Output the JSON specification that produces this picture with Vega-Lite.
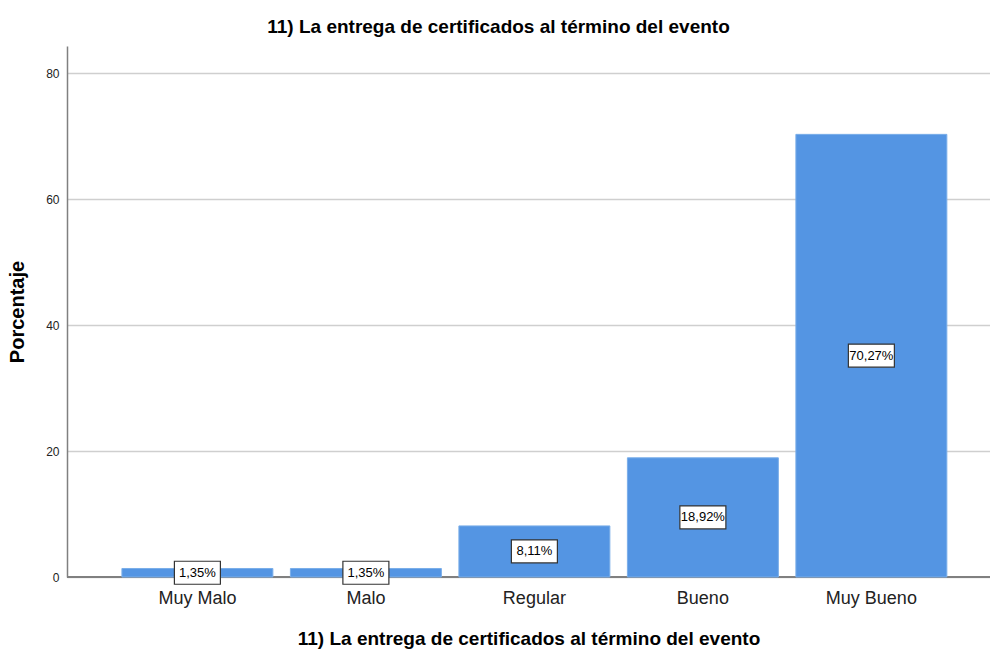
{
  "$schema": "https://vega.github.io/schema/vega-lite/v6.json",
  "autosize": {"type": "none"},
  "width": 923,
  "height": 531,
  "padding": {"left": 67, "top": 46, "right": 0, "bottom": 76},
  "background": "white",
  "title": {
    "text": "11) La entrega de certificados al término del evento",
    "font": "Liberation Sans",
    "fontSize": 19,
    "fontWeight": "bold",
    "color": "#000000",
    "anchor": "middle",
    "dx": -30,
    "offset": 9
  },
  "config": {
    "view": {"stroke": null},
    "font": "Liberation Sans"
  },
  "data": {
    "values": [
      {"cat": "Muy Malo", "pct": 1.35, "label": "1,35%"},
      {"cat": "Malo", "pct": 1.35, "label": "1,35%"},
      {"cat": "Regular", "pct": 8.11, "label": "8,11%"},
      {"cat": "Bueno", "pct": 18.92, "label": "18,92%"},
      {"cat": "Muy Bueno", "pct": 70.27, "label": "70,27%"}
    ]
  },
  "encoding": {
    "x": {
      "field": "cat",
      "type": "nominal",
      "sort": null,
      "scale": {"paddingInner": 0.104, "paddingOuter": 0.291, "align": 0.56},
      "axis": {
        "title": "11) La entrega de certificados al término del evento",
        "titleFont": "Liberation Sans",
        "titleFontSize": 19,
        "titleFontWeight": "bold",
        "titleColor": "#000000",
        "titlePadding": 22,
        "labelFont": "Liberation Sans",
        "labelFontSize": 18,
        "labelColor": "#222222",
        "labelAngle": 0,
        "labelPadding": 12,
        "ticks": false,
        "tickSize": 0,
        "domain": false,
        "grid": false
      }
    }
  },
  "layer": [
    {
      "mark": {"type": "rule", "color": "#808080", "strokeWidth": 1.5},
      "encoding": {"x": null, "y": {"datum": 0, "type": "quantitative"}}
    },
    {
      "mark": {"type": "bar", "color": "#5495e3", "stroke": "#7aaee9", "strokeWidth": 1},
      "encoding": {
        "y": {
          "field": "pct",
          "type": "quantitative",
          "scale": {"domain": [0, 84.3], "nice": false},
          "axis": {
            "title": "Porcentaje",
            "titleFont": "Liberation Sans",
            "titleFontSize": 20,
            "titleFontWeight": "bold",
            "titleColor": "#000000",
            "titlePadding": 18,
            "labelFont": "Liberation Sans",
            "labelFontSize": 12,
            "labelColor": "#222222",
            "labelPadding": 8,
            "values": [0, 20, 40, 60, 80],
            "ticks": false,
            "tickSize": 0,
            "domain": true,
            "domainColor": "#808080",
            "domainWidth": 1.5,
            "grid": true,
            "gridColor": "#cfcfcf",
            "gridWidth": 1.5
          }
        }
      }
    },
    {
      "transform": [{"calculate": "datum.pct / 2", "as": "mid"}],
      "mark": {
        "type": "point",
        "shape": "M-1,-0.5L1,-0.5L1,0.5L-1,0.5Z",
        "size": 2116,
        "filled": true,
        "fill": "white",
        "stroke": "#333333",
        "strokeWidth": 1.2,
        "opacity": 1
      },
      "encoding": {"y": {"field": "mid", "type": "quantitative"}}
    },
    {
      "transform": [{"calculate": "datum.pct / 2", "as": "mid"}],
      "mark": {"type": "text", "font": "Liberation Sans", "fontSize": 13, "color": "#000000", "baseline": "middle", "align": "center"},
      "encoding": {
        "y": {"field": "mid", "type": "quantitative"},
        "text": {"field": "label"}
      }
    }
  ]
}
